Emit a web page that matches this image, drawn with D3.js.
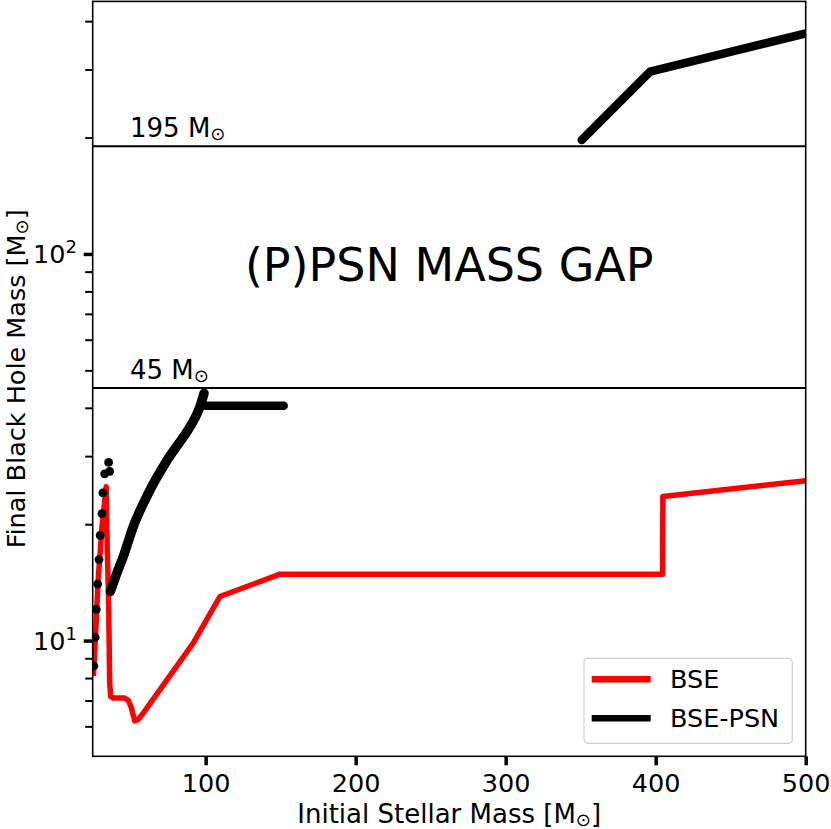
<!DOCTYPE html>
<html>
<head>
<meta charset="UTF-8">
<title>Final BH mass vs initial mass</title>
<script src="https://cdn.jsdelivr.net/npm/d3@7"></script>
<style>
  body { margin: 0; background: #fff; }
  svg text { font-family: "DejaVu Sans", sans-serif; fill: #000; }
</style>
</head>
<body>
<div id="chart"></div>
<script>
// BSE curve
var bseMass = [25.2, 26.7, 28.2, 30.9, 33.7, 34.4, 35.3, 36.0, 36.7, 38.5, 46.0, 48.5, 50.5, 52.7, 55.0, 58.4, 91.7, 109.5, 149.5, 404.6, 404.8, 500];
var bseBH   = [8.1, 10.5, 14.1, 19.7, 25.0, 17.2, 12.7, 7.8, 7.17, 7.1, 7.1, 7.0, 6.7, 6.2, 6.25, 6.49, 9.85, 13.0, 14.85, 14.85, 23.6, 25.9];

// BSE-PSN: separate dots at low mass
var psnDotMass = [25.5, 26.4, 27.1, 28.0, 28.9, 29.7, 30.9, 31.5, 32.7, 35.3, 36.0];
var psnDotBH   = [8.6, 10.2, 12.05, 14.0, 16.2, 18.7, 21.3, 24.1, 27.0, 28.9, 27.4];

// BSE-PSN: rising branch
var psnRiseMass = [36.5, 40.7, 45.1, 51.7, 61.7, 74.4, 89.5, 94.0, 96.2, 98.9];
var psnRiseBH   = [13.4, 14.9, 16.5, 19.7, 24.0, 29.3, 35.7, 38.4, 40.3, 43.6];

// BSE-PSN: plateau after PPISN
var psnFlatMass = [98.4, 152];
var psnFlatBH   = [40.5, 40.5];

// BSE-PSN: above the gap
var psnHighMass = [350.7, 396.2, 500];
var psnHighBH   = [197, 296, 372];

// gap edges
var gapValues = [45, 190];
var gapLabels = ["45", "195"];

var xTicks = [100, 200, 300, 400, 500];
var yMajor = [10, 100];
var yMajorExp = ["1", "2"];
var yMinor = [6, 7, 8, 9, 20, 30, 40, 50, 60, 70, 80, 90, 200, 300, 400];

var seriesNames = ["BSE", "BSE-PSN"];
var seriesColors = ["#ff0000", "#000000"];

var W = 831, H = 829;
var pLeft = 92.7, pRight = 805.7, pTop = 1.4, pBottom = 756.3;

var svg = d3.select("#chart").append("svg")
    .attr("width", W)
    .attr("height", H);

var x = d3.scaleLinear().domain([24.7, 500]).range([pLeft, pRight]);
var y = d3.scaleLog().domain([5.02, 450]).range([pBottom, pTop]);

svg.append("defs").append("clipPath").attr("id", "plotclip")
  .append("rect")
    .attr("x", pLeft).attr("y", pTop)
    .attr("width", pRight - pLeft).attr("height", pBottom - pTop);

var plot = svg.append("g").attr("clip-path", "url(#plotclip)");

function pairs(ms, bs) {
  return ms.map(function(m, i) { return [m, bs[i]]; });
}
var line = d3.line()
    .x(function(d) { return x(d[0]); })
    .y(function(d) { return y(d[1]); });
var smoothLine = d3.line()
    .curve(d3.curveMonotoneX)
    .x(function(d) { return x(d[0]); })
    .y(function(d) { return y(d[1]); });

/* gap lines */
plot.selectAll("line.gap")
  .data(gapValues)
  .enter().append("line")
    .attr("class", "gap")
    .attr("x1", pLeft).attr("x2", pRight)
    .attr("y1", function(d) { return y(d); })
    .attr("y2", function(d) { return y(d); })
    .attr("stroke", "#000")
    .attr("stroke-width", 2);

/* BSE */
plot.append("path")
    .datum(pairs(bseMass, bseBH))
    .attr("d", line)
    .attr("fill", "none")
    .attr("stroke", seriesColors[0])
    .attr("stroke-width", 5.5)
    .attr("stroke-linejoin", "round");

/* BSE-PSN */
plot.append("path")
    .datum(pairs(psnRiseMass, psnRiseBH))
    .attr("d", smoothLine)
    .attr("fill", "none")
    .attr("stroke", seriesColors[1])
    .attr("stroke-width", 9.5)
    .attr("stroke-linecap", "round")
    .attr("stroke-linejoin", "round");

[pairs(psnFlatMass, psnFlatBH), pairs(psnHighMass, psnHighBH)]
  .forEach(function(seg) {
    plot.append("path")
        .datum(seg)
        .attr("d", line)
        .attr("fill", "none")
        .attr("stroke", seriesColors[1])
        .attr("stroke-width", 8.5)
        .attr("stroke-linecap", "round")
        .attr("stroke-linejoin", "round");
  });

plot.selectAll("circle.psn")
  .data(pairs(psnDotMass, psnDotBH))
  .enter().append("circle")
    .attr("class", "psn")
    .attr("cx", function(d) { return x(d[0]); })
    .attr("cy", function(d) { return y(d[1]); })
    .attr("r", 4.4)
    .attr("fill", seriesColors[1]);

/* gap labels: "NN M_sun" */
gapValues.forEach(function(v, i) {
  var t = svg.append("text")
      .attr("x", 130)
      .attr("y", y(v) - 9.5)
      .attr("font-size", "26px");
  t.append("tspan").text(gapLabels[i] + " M");
  t.append("tspan").attr("font-size", "18px").attr("dy", 3).text("\u2299");
});

svg.append("text")
    .attr("x", (pLeft + pRight) / 2)
    .attr("y", 281)
    .attr("text-anchor", "middle")
    .attr("font-size", "46px")
    .text("(P)PSN MASS GAP");

/* axes */
var xAxis = d3.axisBottom(x).tickValues(xTicks).tickSize(9).tickPadding(8);
var gx = svg.append("g")
    .attr("transform", "translate(0," + pBottom + ")")
    .call(xAxis);
gx.select(".domain").remove();
gx.selectAll(".tick line").attr("stroke", "#000").attr("stroke-width", 3.5);
gx.selectAll(".tick text").attr("font-size", "25.5px").attr("font-family", "DejaVu Sans").attr("dy", "0.72em");

var yMinorAxis = d3.axisLeft(y).tickValues(yMinor).tickSize(7.5).tickFormat("");
var gym = svg.append("g")
    .attr("transform", "translate(" + pLeft + ",0)")
    .call(yMinorAxis);
gym.select(".domain").remove();
gym.selectAll(".tick line").attr("stroke", "#000").attr("stroke-width", 2);

var yAxis = d3.axisLeft(y).tickValues(yMajor).tickSize(9).tickFormat("");
var gy = svg.append("g")
    .attr("transform", "translate(" + pLeft + ",0)")
    .call(yAxis);
gy.select(".domain").remove();
gy.selectAll(".tick line").attr("stroke", "#000").attr("stroke-width", 3.5);

/* y tick labels 10^n */
yMajor.forEach(function(v, i) {
  var t = svg.append("text")
      .attr("x", 77)
      .attr("y", y(v) + 9.3)
      .attr("text-anchor", "end")
      .attr("font-size", "25.5px");
  t.append("tspan").text("10");
  t.append("tspan").attr("font-size", "18px").attr("dy", -10).text(yMajorExp[i]);
});

/* frame */
svg.append("rect")
    .attr("x", pLeft).attr("y", pTop)
    .attr("width", pRight - pLeft).attr("height", pBottom - pTop)
    .attr("fill", "none")
    .attr("stroke", "#000")
    .attr("stroke-width", 1.6);

/* axis titles */
var xl = svg.append("text")
    .attr("x", (pLeft + pRight) / 2)
    .attr("y", 823)
    .attr("text-anchor", "middle")
    .attr("font-size", "26px");
xl.append("tspan").text("Initial Stellar Mass [M");
xl.append("tspan").attr("font-size", "18px").attr("dy", 3).text("\u2299");
xl.append("tspan").attr("dy", -3).text("]");

var yl = svg.append("text")
    .attr("transform", "translate(25," + ((pTop + pBottom) / 2) + ") rotate(-90)")
    .attr("text-anchor", "middle")
    .attr("font-size", "25.5px");
yl.append("tspan").text("Final Black Hole Mass [M");
yl.append("tspan").attr("font-size", "18px").attr("dy", 3).text("\u2299");
yl.append("tspan").attr("dy", -3).text("]");

/* legend */
var lg = svg.append("g");
lg.append("rect")
    .attr("x", 584).attr("y", 658.3)
    .attr("width", 208.3).attr("height", 85)
    .attr("rx", 4)
    .attr("fill", "#fff").attr("fill-opacity", 0.8)
    .attr("stroke", "#d0d0d0").attr("stroke-width", 1.2);
seriesNames.forEach(function(name, i) {
  var yy = 679.3 + i * 39;
  lg.append("line")
      .attr("x1", 591.7).attr("x2", 650.7)
      .attr("y1", yy).attr("y2", yy)
      .attr("stroke", seriesColors[i])
      .attr("stroke-width", 6.5);
  lg.append("text")
      .attr("x", 670)
      .attr("y", yy + 9)
      .attr("font-size", "25.5px")
      .text(name);
});
</script>
</body>
</html>
